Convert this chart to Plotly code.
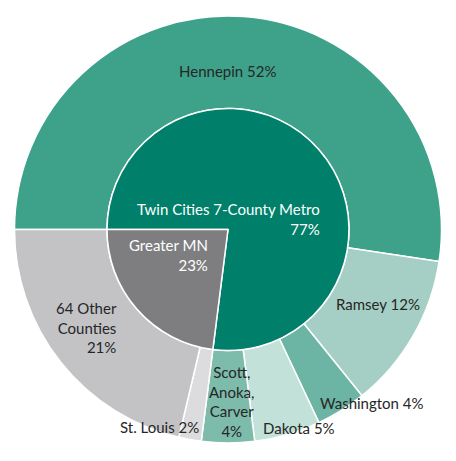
"""
Minnesota share by county - sunburst-style double ring
Inner ring: metro vs greater MN, outer ring: counties.
"""

import plotly.graph_objects as go

# Inner ring (region split)
region_names = ["Twin Cities 7-County Metro", "Greater MN"]
region_values = [77.0, 23.0]
region_labels = ["Twin Cities 7-County Metro<br>77%", "Greater MN<br>23%"]

# Outer ring (counties), clockwise from 9 o'clock
county_names = ["Hennepin", "Ramsey", "Washington", "Dakota",
                "Scott, Anoka, Carver", "St. Louis", "64 Other Counties"]
county_values = [52.4, 11.8, 3.8, 5.0, 4.0, 1.7, 21.3]
county_labels = ["Hennepin 52%", "Ramsey 12%", "Washington 4%", "Dakota 5%",
                 "Scott,<br>Anoka,<br>Carver<br>4%", "St. Louis 2%",
                 "64 Other<br>Counties<br>21%"]

region_colors = ["#00806a", "#7e7e80"]
county_colors = ["#3ea28b", "#a5cfc4", "#6cb4a3", "#c2e1d8",
                 "#7dbbab", "#dcdcde", "#c3c3c6"]

# the page body keeps the browser's default 8px margin
PAGE = 8
W, H = 456 - PAGE, 461 - PAGE
CX, CY = 228 - PAGE, 229.5 - PAGE
R_OUT, R_IN = 213.5, 121


def domain(r):
    """Pie domain (paper coords) for a circle of radius r px around the centre."""
    return dict(x=[(CX - r) / W, (CX + r) / W],
                y=[1 - (CY + r) / H, 1 - (CY - r) / H])


fig = go.Figure()

fig.add_trace(go.Pie(
    labels=county_names, values=county_values,
    sort=False, direction="clockwise", rotation=270,
    hole=R_IN / R_OUT, domain=domain(R_OUT),
    marker=dict(colors=county_colors, line=dict(color="white", width=1.5)),
    textinfo="none", showlegend=False, hoverinfo="label+percent",
))

fig.add_trace(go.Pie(
    labels=region_names, values=region_values,
    sort=False, direction="clockwise", rotation=270,
    domain=domain(R_IN),
    marker=dict(colors=region_colors, line=dict(color="white", width=1.5)),
    textinfo="none", showlegend=False, hoverinfo="label+percent",
))

# label placement in window pixels: (x, y, xanchor, align, color)
label_spots = {
    "Twin Cities 7-County Metro<br>77%": (322, 219, "right", "right", "white"),
    "Greater MN<br>23%": (210, 255, "right", "right", "white"),
    "Hennepin 52%": (227, 71, "center", "center", "#262626"),
    "Ramsey 12%": (378, 304, "center", "center", "#262626"),
    "Washington 4%": (372, 403, "center", "center", "#262626"),
    "Dakota 5%": (299, 428, "center", "center", "#262626"),
    "Scott,<br>Anoka,<br>Carver<br>4%": (231, 401, "center", "center", "#262626"),
    "St. Louis 2%": (159, 427, "center", "center", "#262626"),
    "64 Other<br>Counties<br>21%": (119, 327, "right", "right", "#262626"),
}

for text in region_labels + county_labels:
    x, y, xa, al, col = label_spots[text]
    fig.add_annotation(
        text=text, x=(x - PAGE) / W, y=1 - (y - PAGE) / H,
        xref="paper", yref="paper",
        xanchor=xa, yanchor="middle", align=al, showarrow=False,
        font=dict(family="Lato", size=15, color=col),
    )

fig.update_layout(
    width=W, height=H,
    margin=dict(l=0, r=0, t=0, b=0),
    paper_bgcolor="white",
    plot_bgcolor="white",
)

fig.write_html("out.html")
